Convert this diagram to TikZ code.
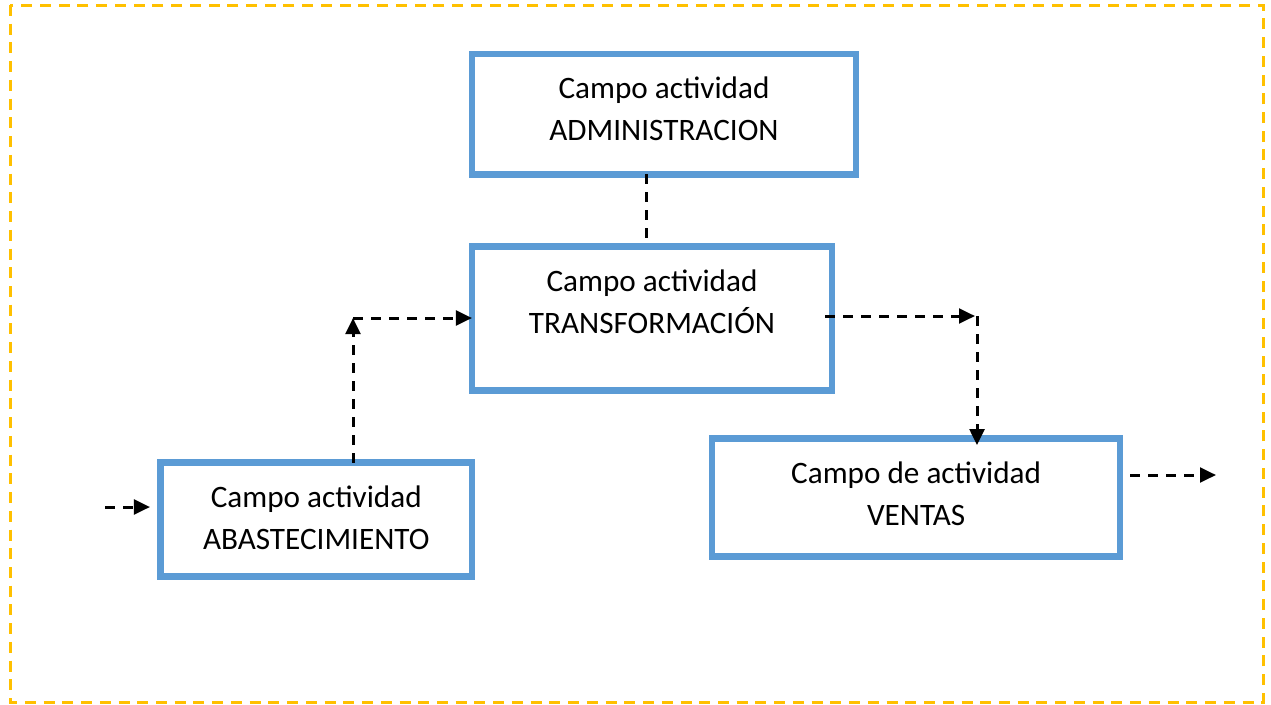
\documentclass[tikz,border=0pt]{standalone}
\usepackage{fontspec}
\setmainfont{Carlito}
\usepackage{xcolor}
\usetikzlibrary{arrows.meta,positioning}
\definecolor{cajaazul}{HTML}{5B9BD5}
\definecolor{marco}{HTML}{FFC000}

\begin{document}
\begin{tikzpicture}[x=0.75pt,y=-0.75pt,every node/.style={font=\fontsize{23.4}{31.5}\selectfont},caja/.style={draw=cajaazul,line width=4.9pt,align=center,inner sep=0pt,outer sep=0pt,text height=65.25pt},flecha/.style={-{Triangle[length=12pt,width=11pt]},line width=2.25pt,dash pattern=on 7.5pt off 6pt},punteada/.style={line width=2.25pt,dash pattern=on 7.5pt off 6pt}]
\useasboundingbox (0,0) rectangle (1271,704);
\draw[marco,line width=2.25pt,dash pattern=on 8.25pt off 5.8pt] (10,5) rectangle (1263,702);
\node[caja,minimum width=233.6pt,text depth=20.25pt] (abast) at (316.25,519.5) {Campo actividad\\ABASTECIMIENTO};
\node[caja,minimum width=270pt,text depth=42.75pt,above right=54.2pt and 0pt of abast] (transf) {Campo actividad\\TRANSFORMACIÓN};
\node[caja,minimum width=288pt,text depth=25.15pt,above=53.9pt of transf.north west,anchor=south west] (admin) {Campo actividad\\ADMINISTRACION};
\node[caja,minimum width=306pt,text depth=23.25pt,below right=36.2pt and -89.9pt of transf] (ventas) {Campo de actividad\\VENTAS};
\coordinate (entrada) at (105,507);
\coordinate (codo1) at (353,318);
\coordinate (codo2) at (977,316);
\coordinate (salida) at (1216,475);
\draw[flecha,shorten >=7.9pt] (entrada) -- (entrada -| abast.west);
\draw[flecha] (codo1 |- abast.north) -- (codo1);
\draw[flecha] (codo1) -- (codo1 -| transf.west);
\draw[flecha,shorten <=-5pt,shorten >=1.5pt] (codo2 -| transf.east) -- (codo2);
\draw[flecha,shorten >=-5pt] (codo2) -- (codo2 |- ventas.north);
\draw[flecha,shorten <=7.5pt] (salida -| ventas.east) -- (salida);
\draw[punteada] ([xshift=-3.75pt]transf.north |- admin.south) -- ([xshift=-3.75pt]transf.north);
\end{tikzpicture}
\end{document}
